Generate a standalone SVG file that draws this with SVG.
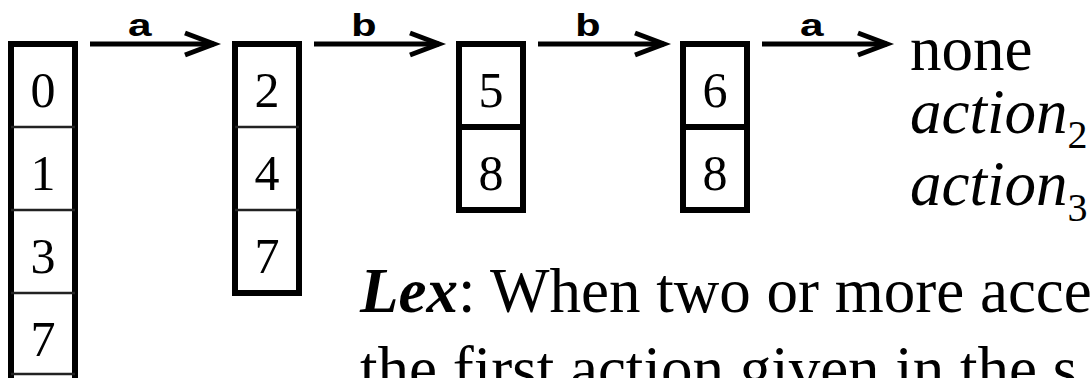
<svg xmlns="http://www.w3.org/2000/svg" width="1092" height="378" viewBox="0 0 1092 378">
  <style>
    .frame { fill: #fff; stroke: #000; stroke-width: 6; }
    .thin { stroke: #222; stroke-width: 2.5; }
    .thick { stroke: #000; stroke-width: 6; }
    .digit { font-family: "Liberation Serif", "Times New Roman", serif; font-size: 50px; text-anchor: middle; fill: #000; }
    .edge { stroke: #000; stroke-width: 5; fill: none; }
    .head { stroke: #000; stroke-width: 5; fill: none; stroke-linecap: butt; stroke-linejoin: miter; }
    .sym { font-family: "Liberation Mono", "Courier New", monospace; font-weight: bold; font-size: 32px; text-anchor: middle; fill: #000; }
    .serif { font-family: "Liberation Serif", "Times New Roman", serif; font-size: 63px; fill: #000; }
    .it { font-style: italic; }
    .sub { font-size: 40px; font-style: normal; }
  </style>
  <defs>
    <marker id="arrowhead" viewBox="0 0 12 10" refX="11" refY="5" markerWidth="12" markerHeight="10" markerUnits="userSpaceOnUse" orient="auto" overflow="visible">
      <path d="M-18,-6 L11,5 L-18,16" class="head"/>
    </marker>
  </defs>
  <rect width="1092" height="378" fill="#fff"/>

  <!-- state {0,1,3,7} -->
  <g id="state-0137">
    <rect class="frame" x="11" y="44" width="64" height="400"/>
    <line class="thin" x1="11" y1="127" x2="75" y2="127"/>
    <line class="thin" x1="11" y1="210" x2="75" y2="210"/>
    <line class="thin" x1="11" y1="293" x2="75" y2="293"/>
    <line class="thin" x1="11" y1="374" x2="75" y2="374"/>
    <text class="digit" x="43" y="107">0</text>
    <text class="digit" x="43" y="190">1</text>
    <text class="digit" x="43" y="273">3</text>
    <text class="digit" x="43" y="356">7</text>
  </g>

  <!-- state {2,4,7} -->
  <g id="state-247">
    <rect class="frame" x="235" y="44" width="64" height="249"/>
    <line class="thin" x1="235" y1="127" x2="299" y2="127"/>
    <line class="thin" x1="235" y1="210" x2="299" y2="210"/>
    <text class="digit" x="267" y="107">2</text>
    <text class="digit" x="267" y="190">4</text>
    <text class="digit" x="267" y="273">7</text>
  </g>

  <!-- state {5,8} -->
  <g id="state-58">
    <rect class="frame" x="459" y="44" width="64" height="166"/>
    <line class="thick" x1="459" y1="127" x2="523" y2="127"/>
    <text class="digit" x="491" y="107">5</text>
    <text class="digit" x="491" y="190">8</text>
  </g>

  <!-- state {6,8} -->
  <g id="state-68">
    <rect class="frame" x="683" y="44" width="64" height="166"/>
    <line class="thick" x1="683" y1="127" x2="747" y2="127"/>
    <text class="digit" x="715" y="107">6</text>
    <text class="digit" x="715" y="190">8</text>
  </g>

  <!-- transitions: labels are stretched wide like a slab-serif mono -->
  <g id="transitions">
    <line class="edge" x1="90" y1="44" x2="214" y2="44" marker-end="url(#arrowhead)"/>
    <text class="sym" transform="translate(140,36) scale(1.35,1)">a</text>
    <line class="edge" x1="314" y1="44" x2="439" y2="44" marker-end="url(#arrowhead)"/>
    <text class="sym" transform="translate(364,36) scale(1.35,1)">b</text>
    <line class="edge" x1="538" y1="44" x2="664" y2="44" marker-end="url(#arrowhead)"/>
    <text class="sym" transform="translate(588,36) scale(1.35,1)">b</text>
    <line class="edge" x1="762" y1="44" x2="887" y2="44" marker-end="url(#arrowhead)"/>
    <text class="sym" transform="translate(812,36) scale(1.35,1)">a</text>
  </g>

  <!-- outcomes -->
  <g id="outcomes">
    <text class="serif" x="910" y="70">none</text>
    <text class="serif it" x="910" y="133">action<tspan class="sub" dy="15">2</tspan></text>
    <text class="serif it" x="910" y="205">action<tspan class="sub" dy="16">3</tspan></text>
  </g>

  <!-- rule note -->
  <g id="note">
    <text class="serif" x="360" y="312"><tspan font-weight="bold" font-style="italic">Lex</tspan>: When two or more acce</text>
    <text class="serif" x="360" y="390">the first action given in the s</text>
  </g>
</svg>
